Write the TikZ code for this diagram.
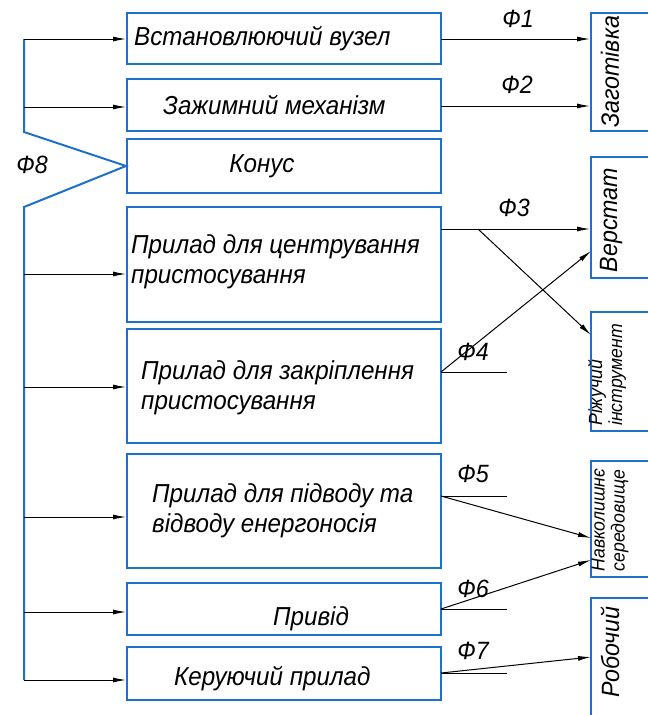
\documentclass[tikz,border=0pt]{standalone}
\usepackage{fontspec}
\setmainfont{Liberation Sans}[FakeStretch=0.93]
\usetikzlibrary{arrows.meta}
\definecolor{bl}{RGB}{30,112,205}
\begin{document}
\begin{tikzpicture}[x=1pt,y=-1pt,
  box/.style={draw=bl,line width=2pt,rectangle,inner sep=0pt},
  txt/.style={font=\fontsize{26}{30}\selectfont\itshape,inner sep=0pt},
  vtxt/.style={font=\fontsize{25}{26}\selectfont\itshape,inner sep=0pt,rotate=90},
  vstxt/.style={font=\fontsize{19}{20}\selectfont\itshape,inner sep=0pt,rotate=90,align=left},
  lbl/.style={font=\fontsize{25}{26}\selectfont\itshape,inner sep=0pt},
  bus/.style={draw=bl,line width=2pt},
  arr/.style={draw=black,line width=1pt,-{Latex[length=13pt,width=5pt]}},
  ln/.style={draw=black,line width=1pt}]
\useasboundingbox (0,0) rectangle (648,715);
\fill[white] (0,0) rectangle (648,715);
% left boxes
\node[box,minimum width=314pt,minimum height=51pt] (b1) at (284,38.5) {};
\node[box,minimum width=314pt,minimum height=52pt] (b2) at (284,105) {};
\node[box,minimum width=314pt,minimum height=54pt] (b3) at (284,166) {};
\node[box,minimum width=314pt,minimum height=115pt] (b4) at (284,264.5) {};
\node[box,minimum width=314pt,minimum height=114pt] (b5) at (284,386) {};
\node[box,minimum width=314pt,minimum height=114pt] (b6) at (284,511) {};
\node[box,minimum width=314pt,minimum height=52pt] (b7) at (284,609) {};
\node[box,minimum width=314pt,minimum height=53pt] (b8) at (284,673.5) {};
% left texts
\node[txt,anchor=west] (tb1) at (134,39) {Встановлюючий вузел};
\node[txt,anchor=west] (tb2) at (163,105) {Зажимний механізм};
\node[txt] (tb3) at (262,166) {Конус};
\node[txt,anchor=west,align=left] (tb4) at (131,262) {Прилад для центрування\\пристосування};
\node[txt,anchor=west,align=left] (tb5) at (141,388) {Прилад для закріплення\\пристосування};
\node[txt,anchor=west,align=left] (tb6) at (152,511) {Прилад для підводу та\\відводу енергоносія};
\node[txt] (tb7) at (311,619) {Привід};
\node[txt,anchor=west] (tb8) at (174,679) {Керуючий прилад};
% right boxes
\node[box,minimum width=69pt,minimum height=118pt] (r1) at (625.5,72) {};
\node[box,minimum width=69pt,minimum height=121pt] (r2) at (625.5,217.5) {};
\node[box,minimum width=69pt,minimum height=119pt] (r3) at (625.5,371.5) {};
\node[box,minimum width=69pt,minimum height=116pt] (r4) at (625.5,519) {};
\node[box,minimum width=69pt,minimum height=124pt] (r5) at (625.5,660) {};
\node[vtxt] (tr1) at (610,72) {Заготівка};
\node[vtxt] (tr2) at (611,220) {Верстат};
\node[vstxt] (tr3) at (607,375) {Ріжучий\\інструмент};
\node[vstxt] (tr4) at (610,520) {Навколишнє\\середовище};
\node[vtxt] (tr5) at (610,652) {Робочий};
% bus
\coordinate (t1) at (24,39);
\coordinate (t2) at (24,107);
\coordinate (t3) at (24,132);
\coordinate (t4) at (24,207);
\coordinate (p4) at (24,274);
\coordinate (p5) at (24,387);
\coordinate (p6) at (24,517);
\coordinate (p7) at (24,612);
\coordinate (p8) at (24,680);
\draw[bus] (t1) -- (t3) -- (b3.west) -- (t4) -- (p8);
\draw[arr] (t1) -- (t1 -| b1.west);
\draw[arr] (t2) -- (t2 -| b2.west);
\draw[arr] (p4) -- (p4 -| b4.west);
\draw[arr] (p5) -- (p5 -| b5.west);
\draw[arr] (p6) -- (p6 -| b6.west);
\draw[arr] (p7) -- (p7 -| b7.west);
\draw[arr] (p8) -- (p8 -| b8.west);
\node[lbl] (f8) at (32,165) {Ф8};
% outputs
\coordinate (o1) at (441,39);
\coordinate (o2) at (441,106);
\coordinate (o3) at (441,229);
\coordinate (o3b) at (478,229);
\coordinate (o4) at (441,372);
\coordinate (o5) at (441,496);
\coordinate (o6) at (441,609);
\coordinate (o7) at (441,673);
\coordinate (e4) at (507,372);
\coordinate (e5) at (507,496);
\coordinate (e6) at (507,609);
\coordinate (e7) at (507,673);
\coordinate (i3) at (591,335);
\coordinate (i4) at (591,251);
\coordinate (i5) at (591,538);
\coordinate (i6) at (591,560);
\coordinate (i7) at (591,657);
\draw[arr] (o1) -- (o1 -| r1.west);
\draw[arr] (o2) -- (o2 -| r1.west);
\draw[arr] (o3) -- (o3 -| r2.west);
\draw[arr] (o3b) -- (i3);
\draw[arr] (o4) -- (i4);
\draw[arr] (o5) -- (i5);
\draw[arr] (o6) -- (i6);
\draw[arr] (o7) -- (i7);
\draw[ln] (o4) -- (e4);
\draw[ln] (o5) -- (e5);
\draw[ln] (o6) -- (e6);
\draw[ln] (o7) -- (e7);
\node[lbl] (f1) at (518,19) {Ф1};
\node[lbl] (f2) at (517,85) {Ф2};
\node[lbl] (f3) at (514,208) {Ф3};
\node[lbl] (f4) at (473,352) {Ф4};
\node[lbl] (f5) at (473,474) {Ф5};
\node[lbl] (f6) at (473,589) {Ф6};
\node[lbl] (f7) at (473,651) {Ф7};
\end{tikzpicture}
\end{document}
